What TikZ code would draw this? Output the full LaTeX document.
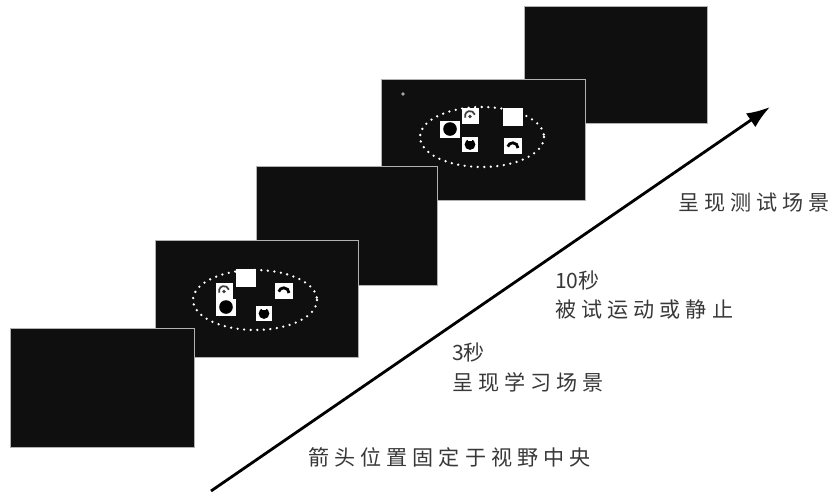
\documentclass[tikz,border=0pt]{standalone}
\usepackage{fontspec}
\newfontfamily\cjk[LetterSpace=24]{Noto Sans CJK SC}
\newfontfamily\cjknum{Noto Sans CJK SC}
\usetikzlibrary{arrows.meta}
\tikzset{
  panel/.style={fill=black!94, draw=black!30, line width=0.5pt},
  ring/.style={white, line width=2.2pt, dash pattern=on 0pt off 5.6pt, line cap=round},
  caption/.style={anchor=west, inner sep=0pt, text=black!78, font={\cjk\fontsize{18}{20}\selectfont}},
  timearrow/.style={line width=2.4pt, -{Latex[length=7mm,width=5mm]}},
  oblank/.pic={\fill[white] (-10,-9) rectangle (10,9);},
  oring/.pic={\fill[white] (-8.5,-8) rectangle (8.5,8);
    \draw[black!75, line width=1.5pt] (-15:5) arc (-15:-200:5);
    \fill[black!75] (0,0.5) circle (1.8);},
  odisc/.pic={\fill[white] (-10,-8.5) rectangle (10,8.5);
    \fill[black] (0,0) circle (6.8);},
  omoon/.pic={\fill[white] (-9,-8) rectangle (9,8);
    \draw[black, line width=2.4pt] (5,2) arc (0:-165:5.2);},
  ocup/.pic={\fill[white] (-8,-7.5) rectangle (8,7.5);
    \fill[black] (0,0.5) circle (5.4);
    \fill[white] (-1.8,-6) rectangle (1.8,-3);},
}
\begin{document}
\begin{tikzpicture}[x=0.03cm, y=-0.03cm]
  \useasboundingbox (0,0) rectangle (833,491);
  % screens, back to front
  \draw[panel] (524,6) rectangle (707,123);
  \draw[panel] (381,79) rectangle (585,200);
  \draw[ring] (482,137) ellipse (62 and 30);
  \fill[black!35] (403,94) circle (1.8);
  \pic at (450,129) {odisc};
  \pic at (470,116) {oring};
  \pic at (513,117) {oblank};
  \pic at (470,144) {ocup};
  \pic at (513,146) {omoon};
  \draw[panel] (256,166) rectangle (437,285);
  \draw[panel] (155,240) rectangle (358,357);
  \draw[ring] (255,300) ellipse (62 and 30);
  \pic at (246,278) {oblank};
  \pic at (224,291) {oring};
  \pic at (226,307) {odisc};
  \pic at (284,291) {omoon};
  \pic at (264,313) {ocup};
  \draw[panel] (10,328) rectangle (194,447);

  % time axis
  \coordinate (start) at (211,491);
  \coordinate (tip) at (770,107);
  \draw[timearrow] (start) -- (tip);

  \node[caption] (test) at (678,203) {呈现测试场景};
  \node[caption] (tmove) at (555,280) {{\cjknum 10}秒};
  \node[caption] (move) at (555,310) {被试运动或静止};
  \node[caption] (tlearn) at (452,352) {{\cjknum 3}秒};
  \node[caption] (learn) at (452,382) {呈现学习场景};
  \node[caption] (fix) at (308,457) {箭头位置固定于视野中央};
\end{tikzpicture}
\end{document}
